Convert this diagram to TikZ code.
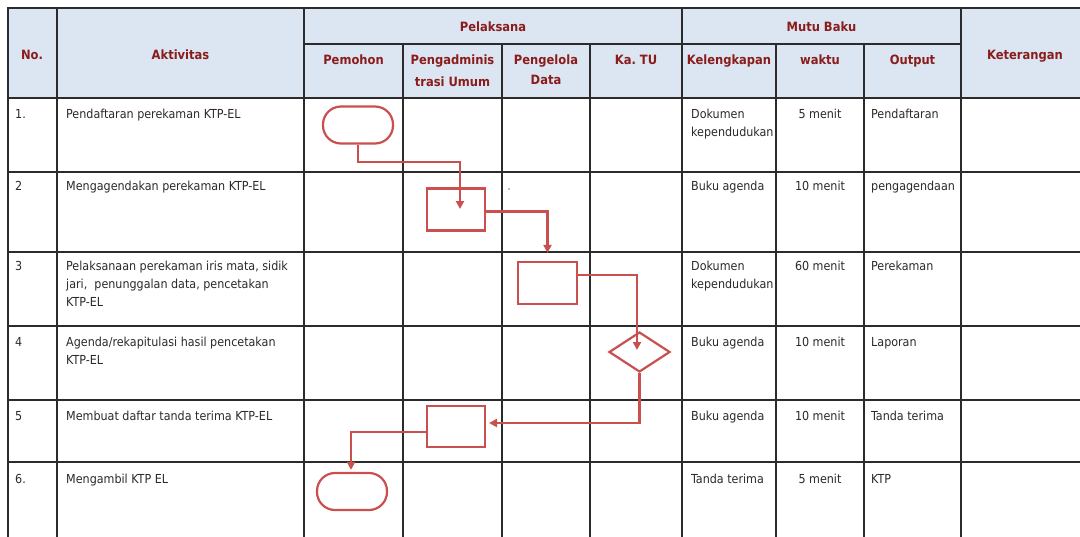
\documentclass[tikz,border=0pt]{standalone}
\usepackage{fontspec}
\setmainfont{DejaVu Sans Condensed}
\usetikzlibrary{shapes.geometric,arrows.meta,calc}
\definecolor{hdrfill}{HTML}{DCE6F2}
\definecolor{hdrtxt}{HTML}{8A1C1C}
\definecolor{flowred}{HTML}{C9504E}
\definecolor{gridc}{HTML}{2B2B2B}
\definecolor{bodytxt}{HTML}{2A2A2A}
\tikzset{
  grid/.style={draw=gridc, line width=1.5pt, line cap=rect},
  hdr/.style={font=\bfseries\fontsize{12.8}{22}\selectfont, text=hdrtxt, inner sep=0pt, align=center, anchor=north},
  body/.style={font=\fontsize{12.4}{18}\selectfont, text=bodytxt, inner sep=0pt, align=left, anchor=north west},
  bodyc/.style={body, anchor=north, align=center},
  flowbox/.style={draw=flowred, line width=2.2pt, rectangle, inner sep=0pt, minimum width=58pt, minimum height=42pt},
  term/.style={flowbox, rounded corners=18pt, minimum width=70pt, minimum height=37pt},
  decision/.style={draw=flowred, line width=2.2pt, diamond, inner sep=0pt, minimum width=61pt, minimum height=40pt},
  flow/.style={draw=flowred, line width=2.2pt, -{Triangle[length=8pt,width=8pt]}},
}
\begin{document}
\begin{tikzpicture}[x=1pt,y=-1pt]
\useasboundingbox (0,0) rectangle (1080,536);
\clip (0,0) rectangle (1080,536);
\fill[hdrfill] (8,8) rectangle (1090,98);
% grid
\foreach \y in {8,98,172,252,326,400,462} \draw[grid] (8,\y) -- (1090,\y);
\draw[grid] (304,44) -- (961,44);
\foreach \x in {8,57,304,682,961} \draw[grid] (\x,8) -- (\x,545);
\foreach \x in {403,502,590,776,864} \draw[grid] (\x,44) -- (\x,545);
% header
\node[hdr] (hNo) at (32,43.6) {\strut No.};
\node[hdr] (hAkt) at (180.5,43.6) {\strut Aktivitas};
\node[hdr] (hPel) at (493,15.6) {\strut Pelaksana};
\node[hdr] (hMutu) at (821.5,15.6) {\strut Mutu Baku};
\node[hdr] (hKet) at (1025,43.6) {\strut Keterangan};
\node[hdr] (hPem) at (353.5,48.6) {\strut Pemohon};
\node[hdr] (hAdm) at (452.5,48.6) {\strut Pengadminis\\trasi Umum};
\node[hdr, font=\bfseries\fontsize{12.8}{20}\selectfont] (hPeng) at (546,50) {\strut Pengelola\\Data};
\node[hdr] (hKa) at (636,48.6) {\strut Ka.\ TU};
\node[hdr] (hKel) at (729,48.6) {\strut Kelengkapan};
\node[hdr] (hWak) at (820,48.6) {\strut waktu};
\node[hdr] (hOut) at (912.5,48.6) {\strut Output};
% row 1
\node[body] (n1) at (15,105.4) {\strut 1.};
\node[body] (a1) at (66,105.4) {\strut Pendaftaran perekaman KTP-EL};
\node[body] (k1) at (691,105.4) {\strut Dokumen\\kependudukan};
\node[bodyc] (w1) at (820,105.4) {\strut 5 menit};
\node[body] (o1) at (871,105.4) {\strut Pendaftaran};
% row 2
\node[body] (n2) at (15,177.4) {\strut 2};
\node[body] (a2) at (66,177.4) {\strut Mengagendakan perekaman KTP-EL};
\node[body] (k2) at (691,177.4) {\strut Buku agenda};
\node[bodyc] (w2) at (820,177.4) {\strut 10 menit};
\node[body] (o2) at (871,177.4) {\strut pengagendaan};
% row 3
\node[body] (n3) at (15,257.4) {\strut 3};
\node[body] (a3) at (66,257.4) {\strut Pelaksanaan perekaman iris mata, sidik\\jari,~ penunggalan data, pencetakan\\KTP-EL};
\node[body] (k3) at (691,257.4) {\strut Dokumen\\kependudukan};
\node[bodyc] (w3) at (820,257.4) {\strut 60 menit};
\node[body] (o3) at (871,257.4) {\strut Perekaman};
% row 4
\node[body] (n4) at (15,333.4) {\strut 4};
\node[body] (a4) at (66,333.4) {\strut Agenda/rekapitulasi hasil pencetakan\\KTP-EL};
\node[body] (k4) at (691,333.4) {\strut Buku agenda};
\node[bodyc] (w4) at (820,333.4) {\strut 10 menit};
\node[body] (o4) at (871,333.4) {\strut Laporan};
% row 5
\node[body] (n5) at (15,407.4) {\strut 5};
\node[body] (a5) at (66,407.4) {\strut Membuat daftar tanda terima KTP-EL};
\node[body] (k5) at (691,407.4) {\strut Buku agenda};
\node[bodyc] (w5) at (820,407.4) {\strut 10 menit};
\node[body] (o5) at (871,407.4) {\strut Tanda terima};
% row 6
\node[body] (n6) at (15,470.4) {\strut 6.};
\node[body] (a6) at (66,470.4) {\strut Mengambil KTP EL};
\node[body] (k6) at (691,470.4) {\strut Tanda terima};
\node[bodyc] (w6) at (820,470.4) {\strut 5 menit};
\node[body] (o6) at (871,470.4) {\strut KTP};
% stray dot
\fill[gray] (509,189) circle (0.8);
% flow shapes
\node[term] (t1) at (358,125) {};
\node[flowbox] (b2) at (456,209.5) {};
\node[flowbox, minimum width=59pt] (b3) at (547.5,283) {};
\node[decision] (d4) at (639.5,352) {};
\node[flowbox, minimum height=41pt] (b5) at (456,426.5) {};
\node[term] (t6) at (352,491.5) {};
% connectors
\coordinate (c1) at (460,162);
\coordinate (e1) at (460,209);
\draw[flow] (t1.south) |- (c1) -- (e1);
\coordinate (e2) at ($(b3.north)+(0,-8)$);
\draw[flow] ($(b2.east)+(0,2)$) -| (e2);
\coordinate (s3) at ($(b3.east)+(0,-8)$);
\coordinate (e3) at (637,350);
\draw[flow] (s3) -| (e3);
\coordinate (e4) at (489,423);
\draw[flow] (d4.south) |- (e4);
\coordinate (s5) at ($(b5.west)+(0,5.5)$);
\coordinate (e5) at ($(t6.north)+(-1,-2)$);
\draw[flow] (s5) -| (e5);
\end{tikzpicture}
\end{document}
